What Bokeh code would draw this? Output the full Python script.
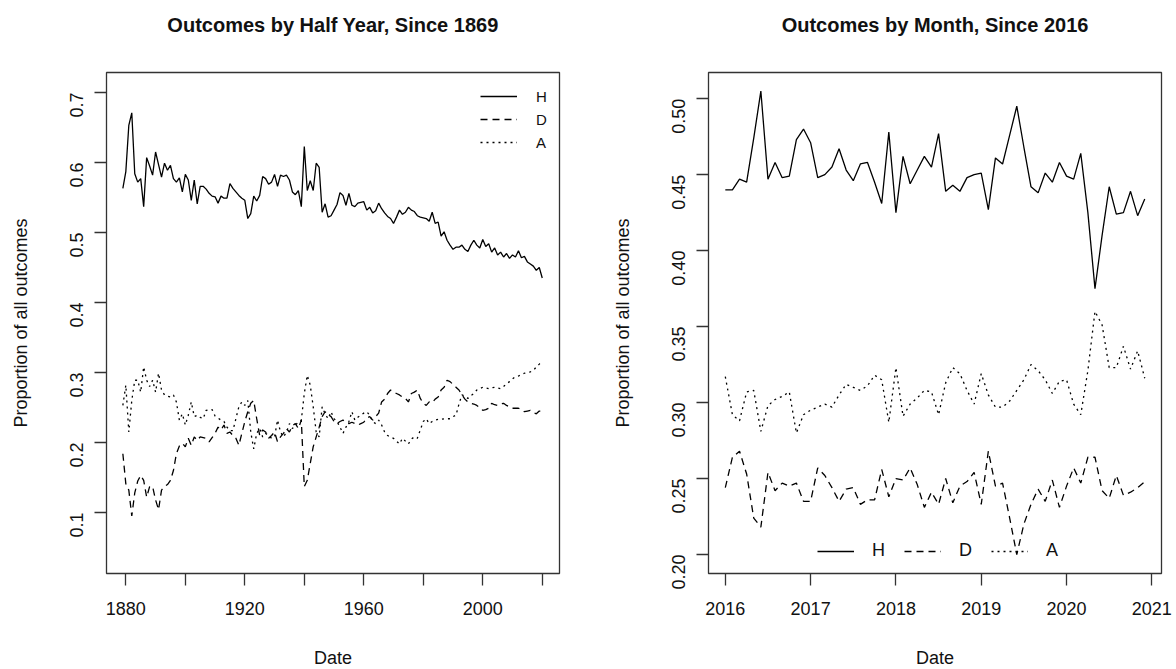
import math
from bokeh.plotting import figure
from bokeh.layouts import row
from bokeh.models import Range1d, FixedTicker, PrintfTickFormatter, Legend, LegendItem, Title
from bokeh.embed import file_html
from bokeh.resources import INLINE

# ---------------- data: half-year panel (one value per year) ----------------
years = list(range(1879, 2021))
home_hist = [
    0.563, 0.587, 0.653, 0.671, 0.584, 0.572, 0.577, 0.537, 0.607, 0.595,
    0.582, 0.615, 0.597, 0.579, 0.599, 0.589, 0.596, 0.577, 0.572, 0.578,
    0.558, 0.583, 0.575, 0.546, 0.575, 0.541, 0.566, 0.566, 0.562, 0.556,
    0.552, 0.551, 0.542, 0.552, 0.549, 0.549, 0.570, 0.563, 0.558, 0.553,
    0.549, 0.546, 0.520, 0.527, 0.552, 0.545, 0.553, 0.580, 0.577, 0.569,
    0.572, 0.583, 0.566, 0.582, 0.580, 0.582, 0.575, 0.558, 0.554, 0.560,
    0.537, 0.623, 0.560, 0.574, 0.560, 0.599, 0.593, 0.529, 0.541, 0.522,
    0.524, 0.532, 0.540, 0.557, 0.553, 0.539, 0.556, 0.539, 0.537, 0.542,
    0.543, 0.544, 0.532, 0.536, 0.528, 0.531, 0.542, 0.534, 0.528, 0.523,
    0.520, 0.513, 0.522, 0.532, 0.526, 0.529, 0.536, 0.532, 0.530, 0.524,
    0.522, 0.521, 0.520, 0.516, 0.529, 0.513, 0.515, 0.495, 0.501, 0.489,
    0.482, 0.476, 0.479, 0.479, 0.482, 0.476, 0.473, 0.482, 0.489, 0.482,
    0.478, 0.490, 0.480, 0.484, 0.472, 0.478, 0.468, 0.472, 0.465, 0.470,
    0.463, 0.468, 0.465, 0.474, 0.464, 0.466, 0.458, 0.455, 0.452, 0.446,
    0.450, 0.435,
]
draw_hist = [
    0.184, 0.141, 0.132, 0.095, 0.128, 0.145, 0.153, 0.146, 0.122, 0.137,
    0.137, 0.118, 0.104, 0.132, 0.137, 0.140, 0.146, 0.160, 0.184, 0.195,
    0.199, 0.194, 0.206, 0.196, 0.208, 0.203, 0.208, 0.207, 0.206, 0.201,
    0.207, 0.213, 0.222, 0.218, 0.225, 0.213, 0.215, 0.210, 0.206, 0.196,
    0.213, 0.230, 0.244, 0.256, 0.260, 0.234, 0.210, 0.218, 0.215, 0.206,
    0.210, 0.215, 0.201, 0.208, 0.213, 0.220, 0.215, 0.224, 0.227, 0.220,
    0.232, 0.137, 0.146, 0.170, 0.194, 0.208, 0.222, 0.237, 0.244, 0.240,
    0.237, 0.230, 0.227, 0.230, 0.232, 0.230, 0.227, 0.229, 0.227, 0.225,
    0.227, 0.229, 0.235, 0.237, 0.232, 0.237, 0.242, 0.258, 0.262, 0.270,
    0.275, 0.272, 0.270, 0.268, 0.265, 0.263, 0.258, 0.270, 0.272, 0.275,
    0.263, 0.256, 0.253, 0.258, 0.257, 0.262, 0.265, 0.275, 0.279, 0.289,
    0.287, 0.283, 0.279, 0.275, 0.268, 0.262, 0.258, 0.256, 0.255, 0.253,
    0.250, 0.246, 0.247, 0.249, 0.256, 0.254, 0.253, 0.255, 0.256, 0.253,
    0.251, 0.249, 0.249, 0.249, 0.247, 0.244, 0.245, 0.246, 0.243, 0.241,
    0.245, 0.245,
]
away_hist = [
    0.253, 0.282, 0.215, 0.260, 0.289, 0.289, 0.272, 0.308, 0.289, 0.280,
    0.289, 0.272, 0.299, 0.275, 0.268, 0.266, 0.265, 0.268, 0.258, 0.232,
    0.241, 0.225, 0.239, 0.258, 0.237, 0.239, 0.236, 0.234, 0.246, 0.247,
    0.247, 0.238, 0.235, 0.232, 0.230, 0.222, 0.217, 0.217, 0.234, 0.251,
    0.258, 0.253, 0.260, 0.215, 0.191, 0.213, 0.220, 0.208, 0.213, 0.210,
    0.206, 0.208, 0.232, 0.215, 0.208, 0.215, 0.227, 0.220, 0.225, 0.229,
    0.232, 0.270, 0.296, 0.282, 0.251, 0.215, 0.208, 0.251, 0.241, 0.234,
    0.244, 0.234, 0.230, 0.222, 0.213, 0.222, 0.230, 0.244, 0.232, 0.236,
    0.239, 0.242, 0.244, 0.239, 0.230, 0.227, 0.232, 0.225, 0.215, 0.210,
    0.208, 0.206, 0.202, 0.198, 0.206, 0.202, 0.198, 0.205, 0.208, 0.206,
    0.218, 0.230, 0.234, 0.227, 0.230, 0.232, 0.233, 0.233, 0.234, 0.234,
    0.234, 0.237, 0.239, 0.255, 0.268, 0.266, 0.263, 0.267, 0.270, 0.275,
    0.277, 0.279, 0.278, 0.277, 0.278, 0.279, 0.278, 0.277, 0.280, 0.284,
    0.287, 0.291, 0.294, 0.295, 0.297, 0.299, 0.300, 0.301, 0.303, 0.308,
    0.312, 0.317,
]

# ---------------- data: monthly panel, Jan 2016 .. Dec 2020 ----------------
months = [2016 + m / 12 for m in range(60)]
home_month = [
    0.440, 0.440, 0.447, 0.445, 0.474, 0.505, 0.447, 0.458, 0.448, 0.449, 0.473, 0.480,
    0.471, 0.448, 0.450, 0.455, 0.467, 0.453, 0.446, 0.457, 0.458, 0.445, 0.431, 0.478,
    0.425, 0.462, 0.444, 0.453, 0.462, 0.455, 0.477, 0.439, 0.443, 0.439, 0.448, 0.450,
    0.451, 0.427, 0.461, 0.457, 0.476, 0.495, 0.468, 0.442, 0.438, 0.451, 0.445, 0.458,
    0.449, 0.447, 0.464, 0.425, 0.375, 0.410, 0.442, 0.424, 0.425, 0.439, 0.423, 0.434,
]
draw_month = [
    0.244, 0.264, 0.268, 0.253, 0.224, 0.218, 0.254, 0.242, 0.247, 0.245, 0.247, 0.235,
    0.235, 0.257, 0.252, 0.244, 0.235, 0.243, 0.244, 0.233, 0.236, 0.236, 0.256, 0.238,
    0.250, 0.249, 0.257, 0.246, 0.231, 0.241, 0.233, 0.250, 0.234, 0.245, 0.248, 0.254,
    0.233, 0.268, 0.245, 0.247, 0.224, 0.200, 0.220, 0.233, 0.243, 0.235, 0.249, 0.231,
    0.245, 0.257, 0.247, 0.264, 0.264, 0.242, 0.237, 0.252, 0.239, 0.241, 0.244, 0.248,
]
away_month = [
    0.317, 0.292, 0.288, 0.307, 0.308, 0.281, 0.298, 0.302, 0.304, 0.307, 0.280, 0.292,
    0.295, 0.297, 0.299, 0.297, 0.305, 0.312, 0.310, 0.308, 0.311, 0.318, 0.315, 0.287,
    0.323, 0.291, 0.299, 0.303, 0.308, 0.307, 0.292, 0.313, 0.323, 0.319, 0.308, 0.299,
    0.319, 0.305, 0.297, 0.297, 0.301, 0.308, 0.315, 0.325, 0.321, 0.315, 0.306, 0.314,
    0.315, 0.299, 0.292, 0.321, 0.360, 0.351, 0.323, 0.323, 0.337, 0.322, 0.334, 0.316,
]

series_labels = ["H", "D", "A"]
left_title = "Outcomes by Half Year, Since 1869"
right_title = "Outcomes by Month, Since 2016"
left_xticks = [1880, 1900, 1920, 1940, 1960, 1980, 2000, 2020]
left_xtick_shown = [1880, 1920, 1960, 2000]
left_yticks = [0.1, 0.2, 0.3, 0.4, 0.5, 0.6, 0.7]
right_xticks = [2016, 2017, 2018, 2019, 2020, 2021]
right_yticks = [0.20, 0.25, 0.30, 0.35, 0.40, 0.45, 0.50]

FONT = "Liberation Sans"
TICK_FS = "18px"
DASHES = ["solid", "7 5", "2 4"]
FRAME_W, FRAME_H = 453, 501


def style(p, xticks, yticks, yfmt, title, shown=None):
    p.outline_line_color = "#333333"
    p.outline_line_width = 1.3
    p.xgrid.visible = False
    p.ygrid.visible = False
    for ax in (p.xaxis[0], p.yaxis[0]):
        ax.axis_line_color = None
        ax.major_tick_out = 12
        ax.major_tick_in = 0
        ax.major_tick_line_color = "#333333"
        ax.major_tick_line_width = 1.3
        ax.minor_tick_line_color = None
        ax.major_label_text_font = FONT
        ax.major_label_text_font_size = TICK_FS
        ax.major_label_text_color = "#111111"
        ax.axis_label_text_font = FONT
        ax.axis_label_text_font_size = TICK_FS
        ax.axis_label_text_font_style = "normal"
        ax.axis_label_text_color = "#111111"
    p.xaxis[0].ticker = FixedTicker(ticks=xticks)
    p.yaxis[0].ticker = FixedTicker(ticks=yticks)
    p.yaxis[0].formatter = PrintfTickFormatter(format=yfmt)
    p.yaxis[0].major_label_orientation = math.pi / 2
    p.yaxis[0].major_label_standoff = 18
    p.yaxis[0].axis_label_standoff = 30
    p.xaxis[0].major_label_standoff = 16
    p.xaxis[0].axis_label_standoff = 30
    if shown is not None:
        p.xaxis[0].major_label_overrides = {t: "" for t in xticks if t not in shown}
    # blank spacer next to the frame, then the real title further out
    p.add_layout(Title(text=" ", text_font_size="10px", standoff=14), "above")
    p.add_layout(Title(text=title, align="center", text_font=FONT, text_font_size="20px",
                       text_font_style="bold", text_color="#111111", standoff=20), "above")


# ---------------- left panel ----------------
p1 = figure(frame_width=FRAME_W, frame_height=FRAME_H, output_backend="svg", toolbar_location=None,
            x_range=Range1d(1873.5, 2025.8), y_range=Range1d(0.0129, 0.7286),
            x_axis_label="Date", y_axis_label="Proportion of all outcomes",
            min_border_left=106, min_border_right=29, min_border_top=72, min_border_bottom=96)
style(p1, left_xticks, left_yticks, "%.1f", left_title, left_xtick_shown)
r1 = []
for vals, dash in zip([home_hist, draw_hist, away_hist], DASHES):
    r1.append(p1.line(years, vals, line_color="black", line_width=1.3, line_dash=dash))
leg1 = Legend(items=[LegendItem(label=l, renderers=[r]) for l, r in zip(series_labels, r1)],
              location=(374, 421), orientation="vertical",
              glyph_width=37, glyph_height=20, label_standoff=19, spacing=3,
              padding=0, margin=0, border_line_color=None, background_fill_alpha=0,
              label_text_font=FONT, label_text_font_size="15px", label_width=12,
              label_text_color="#111111")
p1.add_layout(leg1)

# ---------------- right panel ----------------
p2 = figure(frame_width=FRAME_W, frame_height=FRAME_H, output_backend="svg", toolbar_location=None,
            x_range=Range1d(2015.803, 2021.113), y_range=Range1d(0.1875, 0.5172),
            x_axis_label="Date", y_axis_label="Proportion of all outcomes",
            min_border_left=120, min_border_right=15, min_border_top=72, min_border_bottom=96)
style(p2, right_xticks, right_yticks, "%.2f", right_title)
r2 = []
for vals, dash in zip([home_month, draw_month, away_month], DASHES):
    r2.append(p2.line(months, vals, line_color="black", line_width=1.3, line_dash=dash))
leg2 = Legend(items=[LegendItem(label=l, renderers=[r]) for l, r in zip(series_labels, r2)],
              location=(109, 12), orientation="horizontal",
              glyph_width=37, glyph_height=20, label_standoff=18, spacing=18,
              padding=0, margin=0, border_line_color=None, background_fill_alpha=0,
              label_text_font=FONT, label_text_font_size="18px", label_width=14,
              label_text_color="#111111")
p2.add_layout(leg2)

layout = row(p1, p2)
open("out.html", "w").write(file_html(layout, INLINE))
